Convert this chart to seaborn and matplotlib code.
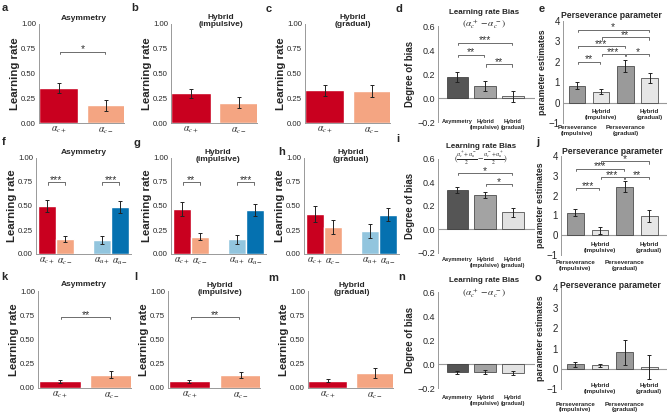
import numpy as np
import pandas as pd
import matplotlib.pyplot as plt
import seaborn as sns

sns.set_style('white')
plt.rcParams['font.family'] = ['Liberation Sans', 'DejaVu Sans']
plt.rcParams['mathtext.fontset'] = 'stix'

W, H = 668, 416

# ---------------- data ----------------
two_keys = ['c+', 'c-']
two_labels = [r'$\alpha_{c+}$', r'$\alpha_{c-}$']
four_keys = ['c+', 'c-', 'u+', 'u-']
four_order = ['c+', 'c-', 'gap', 'u+', 'u-']
four_labels = [r'$\alpha_{c+}$', r'$\alpha_{c-}$', '', r'$\alpha_{u+}$', r'$\alpha_{u-}$']
model_keys = ['Asymmetry', 'Hybrid (impulsive)', 'Hybrid (gradual)']
model_labels = ['Asymmetry', 'Hybrid\n(impulsive)', 'Hybrid\n(gradual)']
pers_keys = ['P imp', 'H imp', 'P grad', 'H grad']
pers_labels = ['Perseverance\n(impulsive)', 'Hybrid\n(impulsive)',
               'Perseverance\n(gradual)', 'Hybrid\n(gradual)']

# row 1 (a-e)
asym1 = [0.35, 0.18];   asym1_se = [0.05, 0.055]
himp1 = [0.30, 0.205];  himp1_se = [0.045, 0.058]
hgrad1 = [0.33, 0.325]; hgrad1_se = [0.058, 0.062]
bias1 = [0.175, 0.10, 0.014]; bias1_se = [0.045, 0.04, 0.045]
pers1 = [0.82, 0.54, 1.78, 1.21]; pers1_se = [0.17, 0.12, 0.29, 0.26]

# row 2 (f-j)
asym2 = [0.50, 0.16, 0.148, 0.49];  asym2_se = [0.067, 0.03, 0.043, 0.064]
himp2 = [0.467, 0.18, 0.155, 0.457]; himp2_se = [0.07, 0.037, 0.047, 0.062]
hgrad2 = [0.415, 0.285, 0.24, 0.41]; hgrad2_se = [0.08, 0.072, 0.072, 0.066]
bias2 = [0.337, 0.295, 0.145]; bias2_se = [0.025, 0.027, 0.038]
pers2 = [1.14, 0.25, 2.44, 0.97]; pers2_se = [0.17, 0.18, 0.28, 0.31]

# row 3 (k-o)
asym3 = [0.068, 0.137]; asym3_se = [0.015, 0.035]
himp3 = [0.068, 0.137]; himp3_se = [0.015, 0.033]
hgrad3 = [0.075, 0.154]; hgrad3_se = [0.018, 0.048]
bias3 = [-0.07, -0.066, -0.075]; bias3_se = [0.012, 0.018, 0.02]
pers3 = [0.23, 0.165, 0.81, 0.08]; pers3_se = [0.12, 0.09, 0.6, 0.6]

# significance brackets: (from, to, height, stars)
sig_a = [(0, 1, 0.72, '*')]
sig_d = [(0, 2, 0.46, '***'), (0, 1, 0.36, '**'), (1, 2, 0.28, '**')]
sig_e = [(0, 3, 3.57, '*'), (1, 3, 3.2, '**'), (0, 2, 2.78, '***'),
         (1, 2, 2.38, '***'), (2, 3, 2.38, '*'), (0, 1, 2.0, '**')]
sig_f = [(0, 1, 0.745, '***'), (3, 4, 0.745, '***')]
sig_g = [(0, 1, 0.745, '**'), (3, 4, 0.745, '***')]
sig_i = [(0, 2, 0.48, '*'), (1, 2, 0.385, '*')]
sig_j = [(1, 3, 3.73, '*'), (0, 2, 3.36, '***'), (1, 2, 2.94, '***'),
         (2, 3, 2.94, '**'), (0, 1, 2.39, '***')]
sig_k = [(0, 1, 0.73, '**')]
sig_l = [(0, 1, 0.73, '**')]
sig_m = [(0, 1, 0.73, '*')]

rate_colors = {'c+': '#c9001f', 'c-': '#f4a582', 'u+': '#92c5de', 'u-': '#0571b0'}
bias_colors = ['#555555', '#a3a3a3', '#e2e2e2']
pers_colors = ['#9a9a9a', '#e6e6e6', '#9a9a9a', '#e6e6e6']
spine_col = '#999999'

fig = plt.figure(figsize=(W / 100, H / 100), dpi=100)


def px_axes(x0, y0, x1, y1):
    return fig.add_axes([x0 / W, 1 - y1 / H, (x1 - x0) / W, (y1 - y0) / H])


def minus(s):
    return s.replace('-', '\u2212')


def left_axis(ax, ticks, fmt, size):
    ax.set_yticks(ticks)
    ax.set_yticklabels([minus(fmt.format(t)) for t in ticks])
    ax.tick_params(axis='y', length=1.6, width=0.6, color=spine_col, pad=0.6, labelsize=size)
    for s in ['top', 'right']:
        ax.spines[s].set_visible(False)
    ax.spines['left'].set_color(spine_col)
    ax.spines['left'].set_linewidth(0.7)


def brackets(ax, sig, rng):
    tick = 0.022 * rng
    for x0, x1, y, txt in sig:
        a, b = x0 + 0.03, x1 - 0.03
        ax.plot([a, a, b, b], [y - tick, y, y, y - tick], color='#555555', lw=0.6, clip_on=False)
        ax.annotate(txt, xy=((x0 + x1) / 2, y), xytext=(0, -2.0), textcoords='offset points',
                    ha='center', va='bottom', fontsize=7.5, color='#333333')


def errs(ax, pos, means, ses):
    ax.errorbar(pos, means, yerr=ses, fmt='none', ecolor='#222222',
                elinewidth=0.7, capsize=1.4, capthick=0.7)


def title(cx, cy, txt, size=6):
    fig.text(cx / W, 1 - cy / H, txt, ha='center', va='center', fontsize=size,
             fontweight='bold', linespacing=1.1)


def rate_panel(box, order, keys, labels, means, ses, width, xlim, sig):
    ax = px_axes(*box)
    df = pd.DataFrame({'param': keys, 'rate': means})
    sns.barplot(data=df, x='param', y='rate', hue='param', order=order,
                palette={k: rate_colors[k] for k in keys}, width=width, saturation=1,
                errorbar=None, legend=False, ax=ax)
    errs(ax, [order.index(k) for k in keys], means, ses)
    ax.set_xlim(*xlim)
    ax.set_ylim(0, 1)
    ax.set_xticks(range(len(order)), labels)
    ax.tick_params(axis='x', length=0, pad=1.5, labelsize=7)
    left_axis(ax, [0, 0.25, 0.5, 0.75, 1.0], '{:.2f}', 5.6)
    ax.spines['bottom'].set_color(spine_col)
    ax.spines['bottom'].set_linewidth(0.7)
    ax.set_xlabel('')
    ax.set_ylabel('Learning rate', fontsize=8.2, fontweight='bold', labelpad=0.5)
    brackets(ax, sig, 1.0)
    return ax


def bias_panel(box, means, ses, sig, pad):
    ax = px_axes(*box)
    df = pd.DataFrame({'model': model_keys, 'bias': means})
    sns.barplot(data=df, x='model', y='bias', hue='model', palette=bias_colors,
                width=0.78, saturation=1, edgecolor='#333333', linewidth=0.5,
                errorbar=None, legend=False, ax=ax)
    errs(ax, range(3), means, ses)
    ax.set_xlim(-0.7, 2.8)
    ax.set_ylim(-0.2, 0.6)
    ax.axhline(0, color=spine_col, lw=0.8, zorder=0)
    ax.spines['bottom'].set_visible(False)
    ax.set_xticks(range(3), model_labels)
    ax.tick_params(axis='x', length=0, pad=pad, labelsize=4.1)
    for t in ax.get_xticklabels():
        t.set_fontweight('bold')
    left_axis(ax, [-0.2, 0, 0.2, 0.4, 0.6], '{:.1f}', 6.5)
    ax.set_xlabel('')
    ax.set_ylabel('Degree of bias', fontsize=6.9, fontweight='bold', labelpad=1.5)
    brackets(ax, sig, 0.8)
    return ax


def pers_panel(box, means, ses, sig, hyb_y, pad):
    ax = px_axes(*box)
    df = pd.DataFrame({'param': pers_keys, 'est': means})
    sns.barplot(data=df, x='param', y='est', hue='param', palette=pers_colors,
                width=0.68, saturation=1, edgecolor='#333333', linewidth=0.5,
                errorbar=None, legend=False, ax=ax)
    errs(ax, range(4), means, ses)
    ax.set_xlim(-0.58, 3.72)
    ax.set_ylim(-1, 4)
    ax.axhline(0, color=spine_col, lw=0.8, zorder=0)
    ax.spines['bottom'].set_visible(False)
    ax.set_xticks([0, 2], [pers_labels[0], pers_labels[2]])
    ax.tick_params(axis='x', length=0, pad=pad, labelsize=4.4)
    for t in ax.get_xticklabels():
        t.set_fontweight('bold')
    for i in (1, 3):
        ax.text(i, hyb_y, pers_labels[i], ha='center', va='top', fontsize=4.4,
                fontweight='bold', linespacing=1.2)
    left_axis(ax, [-1, 0, 1, 2, 3, 4], '{:d}', 7)
    ax.set_xlabel('')
    ax.set_ylabel('parameter estimates', fontsize=6.3, fontweight='bold', labelpad=1)
    brackets(ax, sig, 5.0)
    return ax


two_xlim = (-0.42, 1.38)
four_xlim = (-0.6, 4.6)

# row 1
rate_panel((39, 24, 124, 123), two_keys, two_keys, two_labels, asym1, asym1_se, 0.82, two_xlim, sig_a)
rate_panel((171, 24, 257, 123), two_keys, two_keys, two_labels, himp1, himp1_se, 0.82, two_xlim, [])
rate_panel((305, 24, 390, 123), two_keys, two_keys, two_labels, hgrad1, hgrad1_se, 0.82, two_xlim, [])
bias_panel((438, 26, 535, 122), bias1, bias1_se, sig_d, -2.0)
pers_panel((563, 21, 667, 123), pers1, pers1_se, sig_e, -0.3, 1.5)

# row 2
rate_panel((36, 158, 131, 254), four_order, four_keys, four_labels, asym2, asym2_se, 1.0, four_xlim, sig_f)
rate_panel((171, 158, 266, 254), four_order, four_keys, four_labels, himp2, himp2_se, 1.0, four_xlim, sig_g)
rate_panel((304, 158, 399, 254), four_order, four_keys, four_labels, hgrad2, hgrad2_se, 1.0, four_xlim, [])
bias_panel((438, 159, 535, 253), bias2, bias2_se, sig_i, 3.0)
pers_panel((561, 156, 667, 255), pers2, pers2_se, sig_j, -0.35, 3.5)

# row 3
rate_panel((38, 291, 131, 388), two_keys, two_keys, two_labels, asym3, asym3_se, 0.82, two_xlim, sig_k)
rate_panel((168, 291, 260, 388), two_keys, two_keys, two_labels, himp3, himp3_se, 0.82, two_xlim, sig_l)
rate_panel((308, 291, 393, 388), two_keys, two_keys, two_labels, hgrad3, hgrad3_se, 0.82, two_xlim, [])
bias_panel((438, 292, 535, 388), bias3, bias3_se, [], 5.0)
pers_panel((561, 288, 667, 389), pers3, pers3_se, [], -0.72, 9.0)

# titles
title(84, 18, 'Asymmetry')
title(221, 21, 'Hybrid\n(impulsive)')
title(353, 21, 'Hybrid\n(gradual)')
title(484, 12, 'Learning rate Bias', 5.8)
fig.text(484 / W, 1 - 24 / H, r'$(\alpha_c^{\,+} - \alpha_c^{\,-})$', ha='center', va='center', fontsize=6.8)
title(611, 16, 'Perseverance parameter', 6.2)

title(84, 152, 'Asymmetry')
title(218, 156, 'Hybrid\n(impulsive)')
title(351, 156, 'Hybrid\n(gradual)')
title(481, 146, 'Learning rate Bias', 5.8)
fig.text(481 / W, 1 - 158 / H,
         r'$(\frac{\alpha_c^{+}+\alpha_u^{-}}{2} - \frac{\alpha_c^{-}+\alpha_u^{+}}{2})$',
         ha='center', va='center', fontsize=5.8)
title(612, 151, 'Perseverance parameter', 6.2)

title(84, 285, 'Asymmetry')
title(220, 289, 'Hybrid\n(impulsive)')
title(352, 289, 'Hybrid\n(gradual)')
title(484, 281, 'Learning rate Bias', 5.8)
fig.text(484 / W, 1 - 293 / H, r'$(\alpha_c^{\,+} - \alpha_c^{\,-})$', ha='center', va='center', fontsize=6.8)
title(610, 285, 'Perseverance parameter', 6.2)

# panel letters
letters = {'a': (5, 8), 'b': (135, 8), 'c': (269, 9), 'd': (399, 9), 'e': (542, 9),
           'f': (4, 142), 'g': (137, 143), 'h': (282, 152), 'i': (398, 139), 'j': (538, 142),
           'k': (4, 277), 'l': (136, 277), 'm': (273, 278), 'n': (402, 277), 'o': (538, 278)}
for ch, (x, y) in letters.items():
    fig.text(x / W, 1 - y / H, ch, ha='center', va='center', fontsize=8, fontweight='bold')

fig.savefig('out.png', dpi=100)
